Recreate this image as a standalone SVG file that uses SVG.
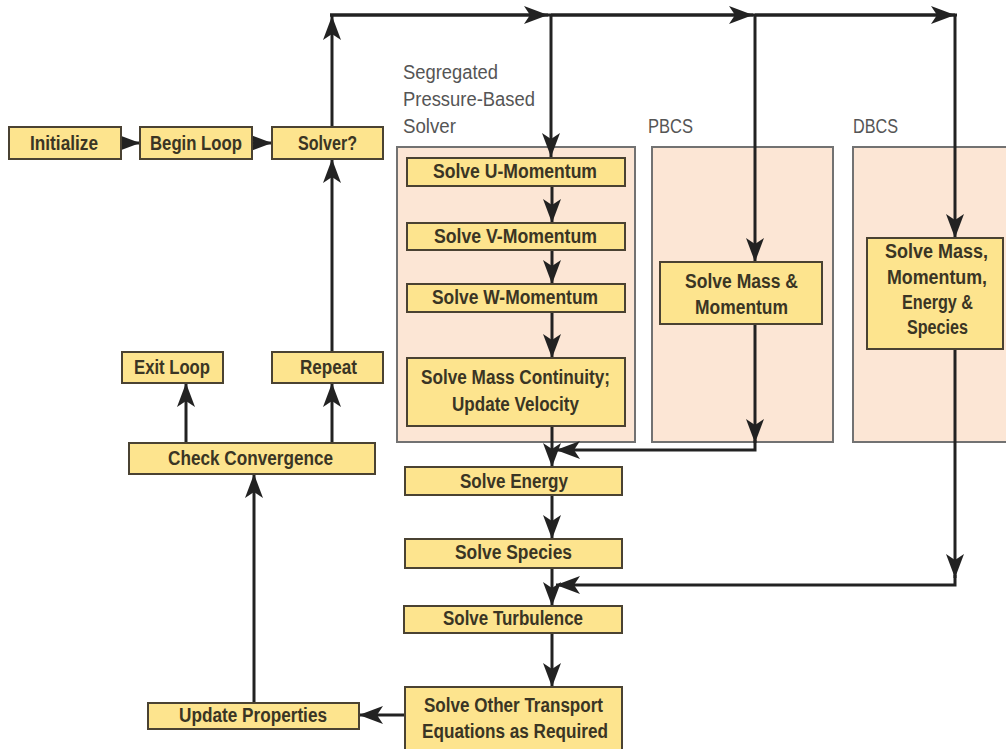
<svg xmlns="http://www.w3.org/2000/svg" width="1006" height="749" viewBox="0 0 1006 749">
<defs>
<style>
.n rect{fill:#fde48e;stroke:#4a4232;stroke-width:2}
.n text{font-family:"Liberation Sans",Arial,sans-serif;font-size:20px;font-weight:bold;fill:#3a3524;text-anchor:start}
.p{fill:#fce6d5;stroke:#727272;stroke-width:2}
.lbl{font-family:"Liberation Sans",Arial,sans-serif;font-size:20px;fill:#555;}
.c path{fill:none;stroke:#222;stroke-width:3;marker-end:url(#ah)}
.c path.nm{marker-end:none}
</style>
<marker id="ah" markerUnits="userSpaceOnUse" markerWidth="26" markerHeight="20" refX="24" refY="9" orient="auto" viewBox="0 0 26 20">
<path d="M0,0 L24,9 L0,18 L6,9 z" fill="#222"/>
</marker>
</defs>
<rect width="1006" height="749" fill="#fff"/>

<g id="panels">
<rect class="p" x="397" y="147" width="238" height="295"/>
<rect class="p" x="652" y="147" width="181" height="295"/>
<rect class="p" x="853" y="147" width="160" height="295"/>
<text class="lbl" x="403" y="79" textLength="95" lengthAdjust="spacingAndGlyphs">Segregated</text>
<text class="lbl" x="403" y="106" textLength="132" lengthAdjust="spacingAndGlyphs">Pressure-Based</text>
<text class="lbl" x="403" y="133" textLength="53" lengthAdjust="spacingAndGlyphs">Solver</text>
<text class="lbl" x="648" y="133" textLength="45" lengthAdjust="spacingAndGlyphs">PBCS</text>
<text class="lbl" x="853" y="133" textLength="45" lengthAdjust="spacingAndGlyphs">DBCS</text>
</g>

<g id="connectors" class="c">
<path d="M117,143 H140"/>
<path d="M249,143 H272"/>
<path d="M332,127 V16"/>
<path class="nm" d="M330,15 H957"/>
<path d="M330,15 H548"/>
<path d="M551,15 H753"/>
<path d="M755,15 H955"/>
<path d="M551,15 V157"/>
<path d="M552,186 V223"/>
<path d="M552,250 V284"/>
<path d="M552,312 V358"/>
<path d="M552,426 V467"/>
<path d="M755,15 V262"/>
<path d="M755,324 V443"/>
<path d="M755,440 V450 H556"/>
<path d="M955,15 V238"/>
<path d="M955,349 V578"/>
<path d="M955,575 V585 H556"/>
<path d="M552,495 V539"/>
<path d="M552,568 V606"/>
<path d="M552,633 V687"/>
<path d="M405,715 H359"/>
<path d="M254,703 V474"/>
<path d="M186,443 V383"/>
<path d="M332,443 V383"/>
<path d="M332,352 V159"/>
</g>

<g id="initialize" class="n"><rect x="9" y="127" width="112" height="32"/><text x="30" y="150" textLength="68" lengthAdjust="spacingAndGlyphs">Initialize</text></g>
<g id="begin-loop" class="n"><rect x="140" y="127" width="112" height="32"/><text x="150" y="150" textLength="92" lengthAdjust="spacingAndGlyphs">Begin Loop</text></g>
<g id="solver" class="n"><rect x="272" y="127" width="111" height="32"/><text x="298" y="150" textLength="59" lengthAdjust="spacingAndGlyphs">Solver?</text></g>

<g id="u-momentum" class="n"><rect x="407" y="158" width="218" height="28"/><text x="433" y="178" textLength="164" lengthAdjust="spacingAndGlyphs">Solve U-Momentum</text></g>
<g id="v-momentum" class="n"><rect x="407" y="223" width="218" height="27"/><text x="434" y="243" textLength="163" lengthAdjust="spacingAndGlyphs">Solve V-Momentum</text></g>
<g id="w-momentum" class="n"><rect x="407" y="284" width="218" height="28"/><text x="432" y="304" textLength="166" lengthAdjust="spacingAndGlyphs">Solve W-Momentum</text></g>
<g id="mass-continuity" class="n"><rect x="407" y="358" width="218" height="68"/><text x="421" y="384" textLength="189" lengthAdjust="spacingAndGlyphs">Solve Mass Continuity;</text><text x="452" y="411" textLength="127" lengthAdjust="spacingAndGlyphs">Update Velocity</text></g>

<g id="mass-momentum" class="n"><rect x="660" y="262" width="162" height="62"/><text x="685" y="288" textLength="113" lengthAdjust="spacingAndGlyphs">Solve Mass &amp;</text><text x="695" y="314" textLength="93" lengthAdjust="spacingAndGlyphs">Momentum</text></g>
<g id="mass-momentum-energy-species" class="n"><rect x="867" y="238" width="136" height="111"/><text x="885" y="258" textLength="103" lengthAdjust="spacingAndGlyphs">Solve Mass,</text><text x="887" y="284" textLength="100" lengthAdjust="spacingAndGlyphs">Momentum,</text><text x="902" y="309" textLength="71" lengthAdjust="spacingAndGlyphs">Energy &amp;</text><text x="907" y="334" textLength="61" lengthAdjust="spacingAndGlyphs">Species</text></g>

<g id="exit-loop" class="n"><rect x="122" y="352" width="101" height="31"/><text x="134" y="374" textLength="76" lengthAdjust="spacingAndGlyphs">Exit Loop</text></g>
<g id="repeat" class="n"><rect x="272" y="352" width="111" height="31"/><text x="300" y="374" textLength="57" lengthAdjust="spacingAndGlyphs">Repeat</text></g>
<g id="check-convergence" class="n"><rect x="129" y="443" width="246" height="31"/><text x="168" y="465" textLength="165" lengthAdjust="spacingAndGlyphs">Check Convergence</text></g>

<g id="energy" class="n"><rect x="405" y="467" width="217" height="28"/><text x="460" y="488" textLength="108" lengthAdjust="spacingAndGlyphs">Solve Energy</text></g>
<g id="species" class="n"><rect x="405" y="539" width="217" height="29"/><text x="455" y="559" textLength="117" lengthAdjust="spacingAndGlyphs">Solve Species</text></g>
<g id="turbulence" class="n"><rect x="404" y="606" width="218" height="27"/><text x="443" y="625" textLength="140" lengthAdjust="spacingAndGlyphs">Solve Turbulence</text></g>
<g id="other-transport" class="n"><rect x="405" y="687" width="217" height="64"/><text x="424" y="712" textLength="179" lengthAdjust="spacingAndGlyphs">Solve Other Transport</text><text x="422" y="738" textLength="186" lengthAdjust="spacingAndGlyphs">Equations as Required</text></g>
<g id="update-properties" class="n"><rect x="148" y="703" width="211" height="26"/><text x="179" y="722" textLength="148" lengthAdjust="spacingAndGlyphs">Update Properties</text></g>
</svg>
